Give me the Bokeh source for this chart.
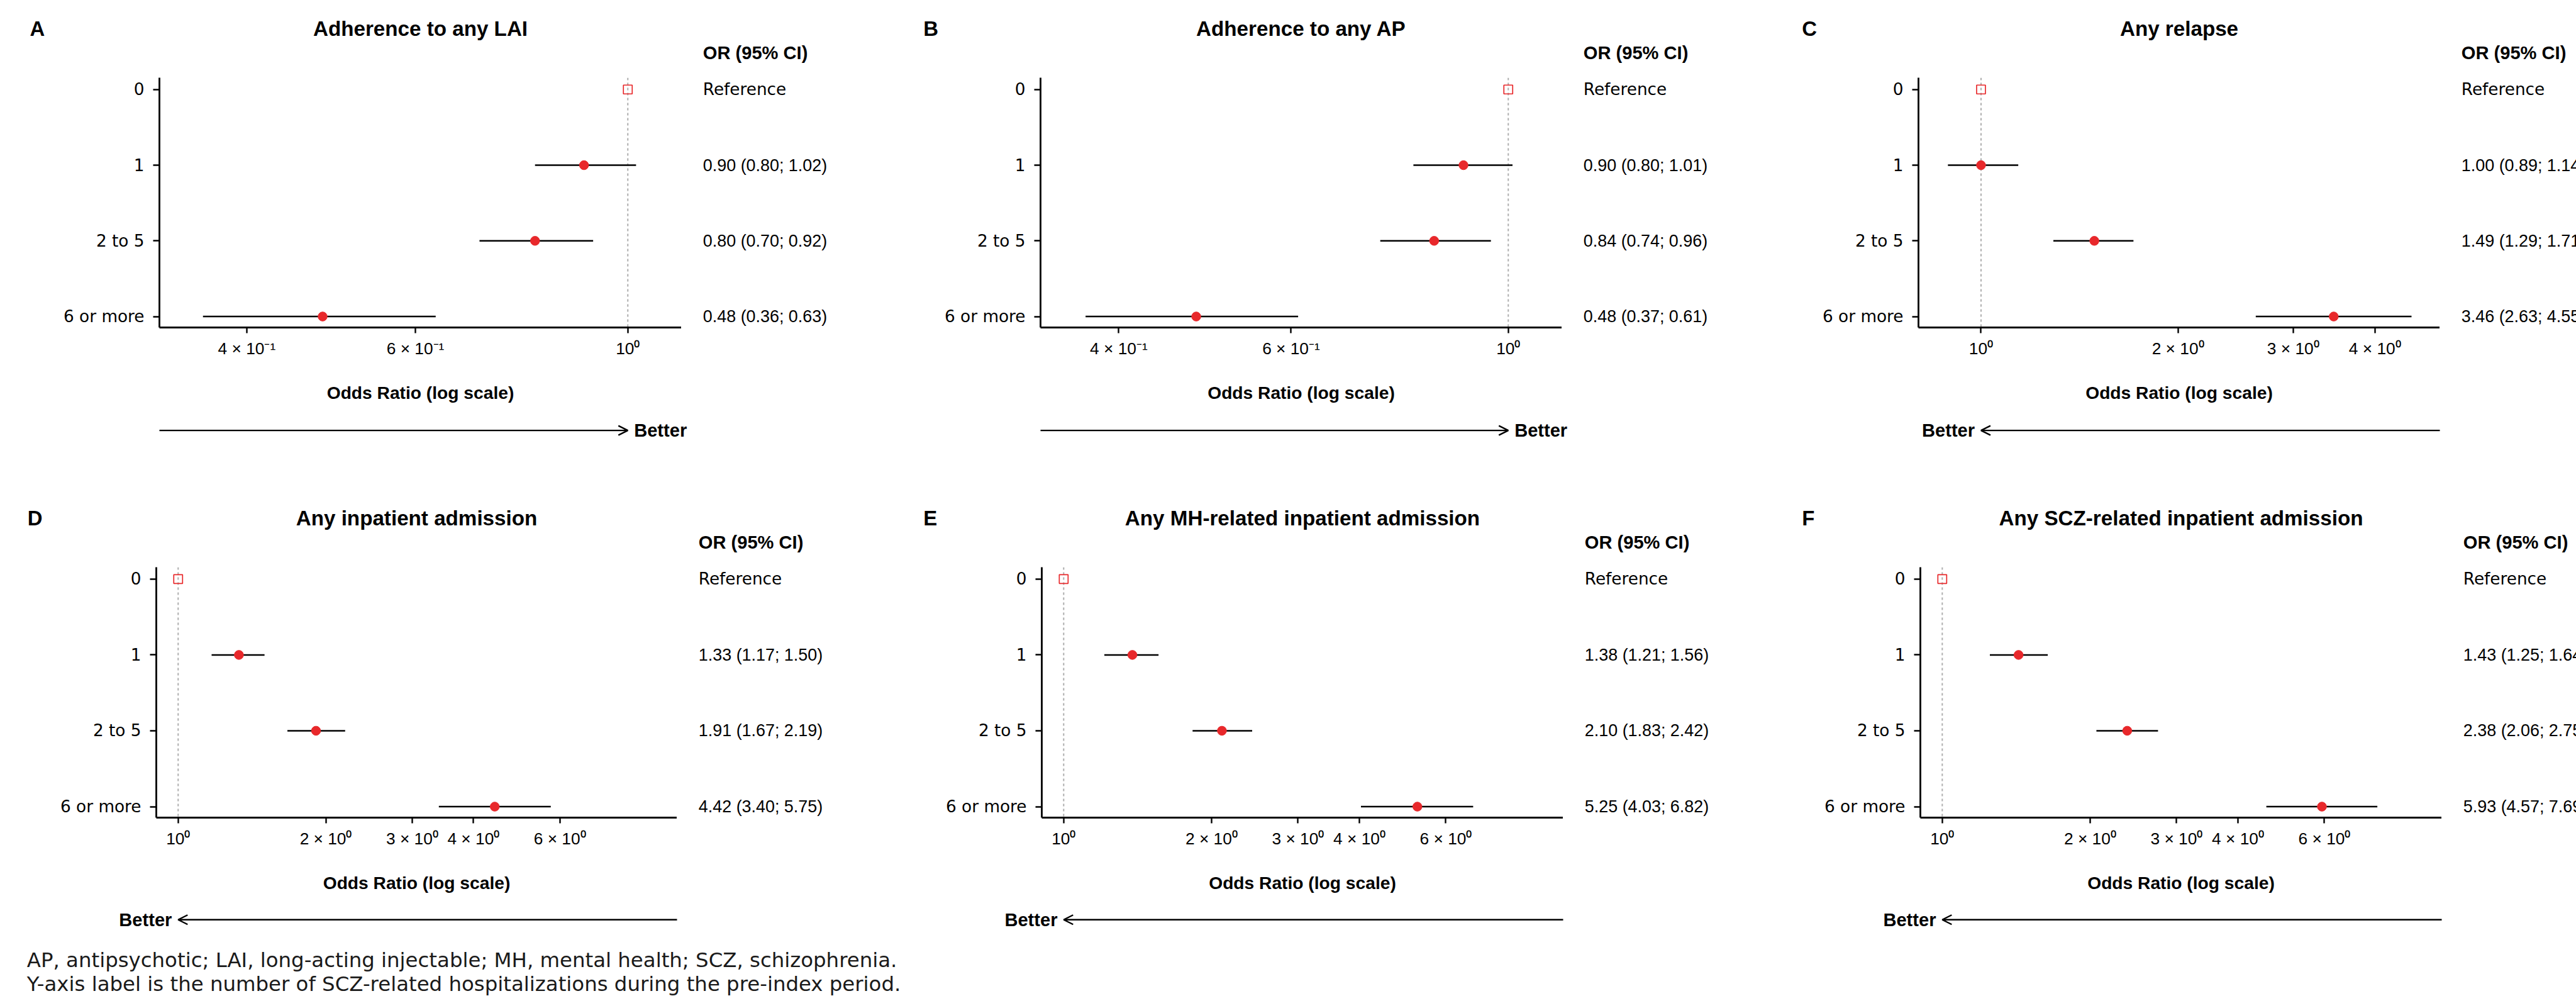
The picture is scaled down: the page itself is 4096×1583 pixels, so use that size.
import math
from bokeh.plotting import figure
from bokeh.models import (Range1d, LogScale, FixedTicker, Arrow,
                          OpenHead, Span, ColumnDataSource)
from bokeh.layouts import row, column
from bokeh.embed import file_html
from bokeh.resources import INLINE
from bokeh.core.properties import value

# ------------------------------------------------------------------ data
groups = ["0", "1", "2 to 5", "6 or more"]
letters = ["A", "B", "C", "D", "E", "F"]
titles = ["Adherence to any LAI", "Adherence to any AP", "Any relapse",
          "Any inpatient admission", "Any MH-related inpatient admission",
          "Any SCZ-related inpatient admission"]
reference_or = 1.0

or_A = [0.90, 0.80, 0.48]; lo_A = [0.80, 0.70, 0.36]; hi_A = [1.02, 0.92, 0.63]
or_B = [0.90, 0.84, 0.48]; lo_B = [0.80, 0.74, 0.37]; hi_B = [1.01, 0.96, 0.61]
or_C = [1.00, 1.49, 3.46]; lo_C = [0.89, 1.29, 2.63]; hi_C = [1.14, 1.71, 4.55]
or_D = [1.33, 1.91, 4.42]; lo_D = [1.17, 1.67, 3.40]; hi_D = [1.50, 2.19, 5.75]
or_E = [1.38, 2.10, 5.25]; lo_E = [1.21, 1.83, 4.03]; hi_E = [1.56, 2.42, 6.82]
or_F = [1.43, 2.38, 5.93]; lo_F = [1.25, 2.06, 4.57]; hi_F = [1.64, 2.75, 7.69]

xlim_A = (0.3242, 1.1376)
xlim_B = (0.3328, 1.1344)
xlim_C = (0.8024, 5.027)
xlim_DEF = (0.9024, 10.40)

ticks_AB = [0.4, 0.6, 1.0]
tick_labels_AB = ["4 × 10⁻¹", "6 × 10⁻¹", "10⁰"]
ticks_C = [1, 2, 3, 4]
tick_labels_C = ["10⁰", "2 × 10⁰", "3 × 10⁰", "4 × 10⁰"]
ticks_DEF = [1, 2, 3, 4, 6]
tick_labels_DEF = ["10⁰", "2 × 10⁰", "3 × 10⁰", "4 × 10⁰", "6 × 10⁰"]

better_side = ["right", "right", "left", "left", "left", "left"]

footnote_lines = [
    "AP, antipsychotic; LAI, long-acting injectable; MH, mental health; SCZ, schizophrenia.",
    "Y-axis label is the number of SCZ-related hospitalizations during the pre-index period.",
]

series = [(or_A, lo_A, hi_A, xlim_A, ticks_AB, tick_labels_AB),
          (or_B, lo_B, hi_B, xlim_B, ticks_AB, tick_labels_AB),
          (or_C, lo_C, hi_C, xlim_C, ticks_C, tick_labels_C),
          (or_D, lo_D, hi_D, xlim_DEF, ticks_DEF, tick_labels_DEF),
          (or_E, lo_E, hi_E, xlim_DEF, ticks_DEF, tick_labels_DEF),
          (or_F, lo_F, hi_F, xlim_DEF, ticks_DEF, tick_labels_DEF)]

# ------------------------------------------------------------------ layout (reference px -> page px)
S = 4096 / 4356
TOTAL_W, TOTAL_H = 4096, 1583


def X(r):
    return r * S


def I(r):
    return int(math.floor(r * S + 0.5))


def fpx(r):
    return f"{r * S:.1f}px"


RED = "#e8282b"
F_NUM = "Liberation Sans"
F_WORD = "DejaVu Sans"

frames_x = [(269.1, 1151.3), (1758.9, 2640.1), (3243.6, 4125.7),
            (263.3, 1144.8), (1761.6, 2642.9), (3246.4, 4128.5)]
letter_x = [50, 1561, 3046.7, 46, 1561, 3046.7]
col_bounds = [0, I(1530), I(3020), TOTAL_W]
row_top = [0, I(800)]
row_end = [I(800), I(1585)]
frames_y = [(130.7, 553.3), (957.7, 1381.4)]
arrow_top_ref = [689.3, 1517.4]
title_y = [48.3, 875.0]
orhead_y = [88.7, 916.4]
arrow_y = [727.0, 1554.0]
Y_RANGE = (3.145, -0.156)


def base_fig(**kw):
    f = figure(output_backend="svg", toolbar_location=None, tools="", **kw)
    f.outline_line_color = None
    f.background_fill_color = "white"
    f.border_fill_color = "white"
    return f


def blank_fig(w, h, xr, yr):
    f = base_fig(frame_width=w, frame_height=h, min_border_left=0, min_border_right=0,
                 min_border_top=0, min_border_bottom=0, x_range=xr, y_range=yr,
                 x_axis_location=None, y_axis_location=None)
    f.grid.visible = False
    return f


def build_row(r):
    T = I(frames_y[r][0]); B = I(frames_y[r][1])
    yA = I(arrow_top_ref[r])
    y0, y1 = row_top[r], row_end[r]
    fh = B - T
    hT = T - y0
    hA = y1 - yA

    # ---------------- header strip: panel letters, titles, column headers
    head = blank_fig(TOTAL_W, hT, Range1d(0, TOTAL_W), Range1d(0, hT))
    lx, ly, tx, ty, ttext, ox, oy = [], [], [], [], [], [], []
    for c in range(3):
        i = 3 * r + c
        L = I(frames_x[i][0]); R = I(frames_x[i][1])
        lx.append(X(letter_x[i])); ly.append(hT - (X(title_y[r]) - y0))
        tx.append((L + R) / 2); ty.append(hT - (X(title_y[r]) - y0)); ttext.append(titles[i])
        ox.append(R + 36.5 * S); oy.append(hT - (X(orhead_y[r]) - y0))
    head.text(x=lx, y=ly, text=letters[3 * r:3 * r + 3], text_font=value(F_NUM),
              text_font_style="bold", text_font_size=fpx(35), text_align="left",
              text_baseline="middle", text_color="black")
    head.text(x=tx, y=ty, text=ttext, text_font=value(F_NUM),
              text_font_style="bold", text_font_size=fpx(35.3), text_align="center",
              text_baseline="middle", text_color="black")
    head.text(x=ox, y=oy, text=["OR (95% CI)"] * 3, text_font=value(F_NUM),
              text_font_style="bold", text_font_size=fpx(31), text_align="left",
              text_baseline="middle", text_color="black")

    # ---------------- plot strip: forest plots + OR text columns
    kids = []
    arrow_ranges = {}
    for c in range(3):
        i = 3 * r + c
        orv, lo, hi, xlim, ticks, tlabels = series[i]
        x0, x1 = col_bounds[c], col_bounds[c + 1]
        L = I(frames_x[i][0]); R = I(frames_x[i][1])
        fw = R - L
        yr = Range1d(*Y_RANGE)
        p = base_fig(frame_width=fw, frame_height=fh,
                     min_border_left=L - x0, min_border_right=0,
                     min_border_top=0, min_border_bottom=yA - B,
                     x_axis_type="log", x_range=Range1d(*xlim), y_range=yr)
        p.grid.visible = False

        xa = p.xaxis[0]
        xa.ticker = FixedTicker(ticks=ticks, minor_ticks=[])
        xa.major_label_overrides = {t: s for t, s in zip(ticks, tlabels)}
        xa.axis_line_width = 2.8
        xa.major_tick_line_width = 2.4
        xa.major_tick_out = 9
        xa.major_tick_in = 0
        xa.minor_tick_line_color = None
        xa.major_label_standoff = 9
        xa.major_label_text_font = F_NUM
        xa.major_label_text_font_size = fpx(28)
        xa.major_label_text_color = "black"
        xa.axis_label = "Odds Ratio (log scale)"
        xa.axis_label_text_font = F_NUM
        xa.axis_label_text_font_style = "bold"
        xa.axis_label_text_font_size = fpx(30)
        xa.axis_label_text_color = "black"
        xa.axis_label_standoff = 36

        ya = p.yaxis[0]
        ya.ticker = FixedTicker(ticks=[0, 1, 2, 3], minor_ticks=[])
        ya.major_label_overrides = {k: g for k, g in enumerate(groups)}
        ya.axis_line_width = 2.8
        ya.major_tick_line_width = 2.4
        ya.major_tick_out = 10
        ya.major_tick_in = 0
        ya.minor_tick_line_color = None
        ya.major_label_standoff = 14
        ya.major_label_text_font = F_WORD
        ya.major_label_text_font_size = fpx(28)
        ya.major_label_text_color = "black"

        p.add_layout(Span(location=reference_or, dimension="height", line_color="#adadad",
                          line_width=2, line_dash="4 4", level="underlay"))

        src = ColumnDataSource(dict(y=[1, 2, 3], orv=orv, lo=lo, hi=hi))
        p.segment(x0="lo", y0="y", x1="hi", y1="y", source=src,
                  line_color="black", line_width=2.5)
        p.scatter(x="orv", y="y", source=src, marker="circle", size=14.5,
                  fill_color=RED, line_color=RED)
        p.scatter(x=[reference_or], y=[0], marker="square", size=14,
                  fill_color=None, line_color=RED, line_width=1.7)
        kids.append(p)

        # OR column
        wS = x1 - R
        side = base_fig(frame_width=wS, frame_height=fh, min_border_left=0,
                        min_border_right=0, min_border_top=0, min_border_bottom=yA - B,
                        x_range=Range1d(0, wS), y_range=yr,
                        x_axis_location=None, y_axis_location=None)
        side.grid.visible = False
        cx = 36.5 * S
        side.text(x=[cx], y=[0], text=["Reference"], text_font=value(F_WORD),
                  text_font_size=fpx(28), text_align="left", text_baseline="middle",
                  text_color="black")
        vals = [f"{orv[k]:.2f} ({lo[k]:.2f}; {hi[k]:.2f})" for k in range(3)]
        side.text(x=[cx] * 3, y=[1, 2, 3], text=vals, text_font=value(F_NUM),
                  text_font_size=fpx(28.6), text_align="left", text_baseline="middle",
                  text_color="black")
        kids.append(side)

        # same log scale as the panel, extended over the full strip width
        l0, l1 = math.log(xlim[0]), math.log(xlim[1])
        k = (l1 - l0) / fw
        arrow_ranges[f"p{c}"] = Range1d(math.exp(l0 - L * k), math.exp(l1 + (TOTAL_W - R) * k))

    mid = row(*kids)

    # ---------------- arrow strip: "Better" direction arrows
    arr = blank_fig(TOTAL_W, hA, Range1d(0, TOTAL_W), Range1d(0, hA))
    arr.extra_x_ranges = arrow_ranges
    arr.extra_x_scales = {n: LogScale() for n in arrow_ranges}
    ay = hA - (X(arrow_y[r]) - yA)
    for c in range(3):
        i = 3 * r + c
        xlim = series[i][3]
        name = f"p{c}"
        if better_side[i] == "right":
            xs, align, off = xlim[0], "left", 10.5 * S
        else:
            xs, align, off = xlim[1], "right", -10.5 * S
        arr.add_layout(Arrow(x_start=xs, y_start=ay, x_end=reference_or, y_end=ay,
                             x_range_name=name, line_color="black", line_width=2.4,
                             end=OpenHead(size=15, line_width=2.4, line_color="black")))
        arr.text(x=[reference_or], y=[ay], text=["Better"], x_range_name=name,
                 x_offset=off, text_font=value(F_NUM), text_font_style="bold",
                 text_font_size=fpx(31), text_align=align, text_baseline="middle",
                 text_color="black")
    return column(head, mid, arr)


top = build_row(0)
bottom = build_row(1)

fh_foot = TOTAL_H - row_end[1]
foot = blank_fig(TOTAL_W, fh_foot, Range1d(0, TOTAL_W), Range1d(0, fh_foot))
foot.text(x=[X(45)] * 2, y=[TOTAL_H - X(1622.0), TOTAL_H - X(1662.5)],
          text=footnote_lines, text_font=value(F_WORD), text_font_size=fpx(34.5),
          text_align="left", text_baseline="alphabetic", text_color="#1a1a1a")

layout = column(top, bottom, foot)

open("out.html", "w").write(file_html(layout, INLINE))
